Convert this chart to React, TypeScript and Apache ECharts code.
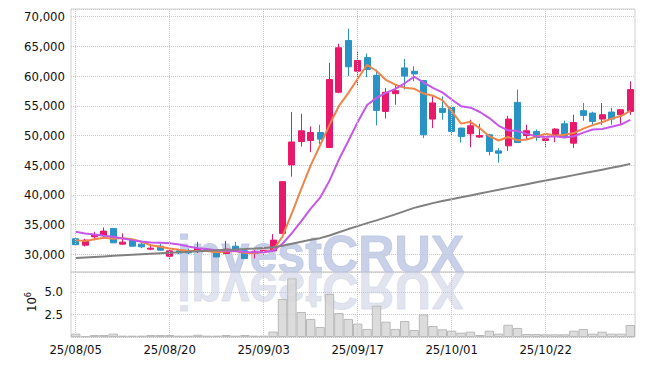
import React, { useEffect, useRef } from "react";
import * as echarts from "echarts";

const dates = [
  "25/08/05","25/08/06","25/08/07","25/08/08","25/08/11","25/08/12","25/08/13","25/08/14","25/08/18","25/08/19",
  "25/08/20","25/08/21","25/08/22","25/08/25","25/08/26","25/08/27","25/08/28","25/08/29","25/09/01","25/09/02",
  "25/09/03","25/09/04","25/09/05","25/09/08","25/09/09","25/09/10","25/09/11","25/09/12","25/09/15","25/09/16",
  "25/09/17","25/09/18","25/09/19","25/09/22","25/09/23","25/09/24","25/09/25","25/09/26","25/09/29","25/09/30",
  "25/10/01","25/10/02","25/10/10","25/10/13","25/10/14","25/10/15","25/10/16","25/10/17","25/10/20","25/10/21",
  "25/10/22","25/10/23","25/10/24","25/10/27","25/10/28","25/10/29","25/10/30","25/10/31","25/11/03","25/11/04",
];

const labelDates = ["25/08/05", "25/08/20", "25/09/03", "25/09/17", "25/10/01", "25/10/22"];

const openP = [
  32600,31520,32930,33210,34340,31690,32370,31690,30850,31350,
  29660,30560,30500,30500,30800,30560,30120,31350,30560,30120,
  30270,30560,33500,45040,48980,49150,50500,47970,57270,66000,
  60820,63120,60130,54050,57040,61380,60810,59240,52760,54560,
  54730,51240,50280,49720,50110,47400,48250,55570,49990,50670,
  49150,49830,51970,48700,54170,53770,52760,53940,53490,54050,
];
const closeP = [
  31600,32370,33330,33890,31910,32030,31350,31240,31010,30680,
  30560,30220,30220,30960,30650,29540,30850,30680,29270,30390,
  30680,32370,42220,48900,50780,50500,49380,59410,64770,61570,
  62620,61100,54220,57270,57550,60000,60370,50110,55470,53880,
  50670,49820,51630,50000,47290,47010,52760,48810,50790,49660,
  49430,51070,49660,52190,53380,52370,53490,52760,54340,57720,
];
const lowP = [
  31400,31300,32370,32650,31900,31650,31300,31000,30680,30600,
  29200,30000,30000,30200,30500,29500,30000,30500,29200,29270,
  29900,30400,33400,43060,48130,47180,48530,47900,57100,60000,
  58420,59800,51690,52850,55180,57720,59130,49600,51240,52650,
  49940,48810,48030,49550,46630,45420,47400,48750,49270,49100,
  48030,48870,49500,47910,52480,51800,51800,51800,51800,53490,
];
const highP = [
  32900,32600,33770,34500,34400,33500,32500,32000,31520,31750,
  30900,30900,30960,32080,30950,30700,32250,32080,30700,30680,
  31000,33380,42300,53950,53660,51510,51800,62230,65450,67970,
  64250,63800,61100,58000,58560,62890,61660,59300,56580,56580,
  54800,51300,52650,51970,50280,47850,53320,57720,51800,51000,
  50110,51240,52500,53490,55460,54000,55460,54650,54400,59120,
];

// volume in millions of shares
const volumeM = [
  0.37,0.1,0.22,0.22,0.37,0.15,0.15,0.15,0.22,0.22,
  0.22,0.15,0.15,0.25,0.15,0.15,0.22,0.15,0.22,0.15,
  0.15,0.6,4.2,6.5,2.77,2.0,1.1,4.76,2.65,2.0,
  1.48,0.89,3.47,1.7,0.89,1.77,0.77,2.5,1.22,0.85,
  0.7,0.48,0.59,0.22,0.7,0.37,1.36,1.0,0.33,0.33,
  0.3,0.3,0.3,0.7,0.89,0.37,0.59,0.37,0.37,1.33,
];

// moving-average values before enough in-window history exists
const ma5Lead = [32370, 32200, 32530, 32760];
const ma10Lead = [33770, 33500, 33330, 33100, 32930, 32650, 32370, 32150, 31950];

// 60-day moving average (history before window not shown)
const ma60 = [
  29350,29450,29540,29630,29720,29810,29900,29990,30080,30170,
  30260,30340,30420,30500,30590,30680,30740,30800,30870,30950,
  31040,31180,31420,31760,32100,32420,32700,33160,33700,34230,
  34720,35230,35700,36200,36700,37250,37800,38200,38600,38950,
  39270,39580,39900,40220,40540,40850,41170,41480,41790,42100,
  42400,42710,43010,43320,43630,43930,44240,44550,44870,45210,
];

function movingAvg(n: number, lead: number[]) {
  return closeP.map((_, i) => {
    if (i < n - 1) return lead[i];
    let s = 0;
    for (let k = i - n + 1; k <= i; k++) s += closeP[k];
    return Math.round(s / n);
  });
}

const UP = "#e8196b";
const DOWN = "#2a93c6";
const GRIDC = "#c6c8da";
const FONT = '"DejaVu Sans Condensed", "DejaVu Sans", sans-serif';
const WM_FONT = 'bold 52px "Liberation Sans", Arial, sans-serif';

export default function App() {
  const ref = useRef<HTMLDivElement>(null);
  useEffect(() => {
    document.body.style.margin = "0";
    const chart = echarts.init(ref.current!, null, { renderer: "svg" });
    const candles = dates.map((_, i) => [openP[i], closeP[i], lowP[i], highP[i]]);
    const vLines = {
      symbol: ["none", "none"],
      silent: true,
      animation: false,
      label: { show: false },
      lineStyle: { type: "dotted", color: GRIDC, width: 1 },
      data: labelDates.map((d) => ({ xAxis: d })),
    };
    const labelIdx = new Set(labelDates.map((d) => dates.indexOf(d)));
    chart.setOption({
      animation: false,
      textStyle: { fontFamily: FONT },
      grid: [
        { left: 71, right: 10, top: 9, height: 263, show: true, borderColor: "#d0d0d0", borderWidth: 1 },
        { left: 71, right: 10, top: 272, height: 65, show: true, borderColor: "#d0d0d0", borderWidth: 1 },
      ],
      xAxis: [
        {
          type: "category", gridIndex: 0, data: dates, boundaryGap: true,
          axisLine: { show: false }, axisTick: { show: false }, axisLabel: { show: false }, splitLine: { show: false },
        },
        {
          type: "category", gridIndex: 1, data: dates, boundaryGap: true,
          axisLine: { show: false }, axisTick: { show: false }, splitLine: { show: false },
          axisLabel: {
            interval: (idx: number) => labelIdx.has(idx),
            color: "#111", fontSize: 13, fontFamily: FONT, margin: 6,
          },
        },
      ],
      yAxis: [
        {
          type: "value", gridIndex: 0, min: 27000, max: 71300, splitNumber: 9, scale: true,
          axisLine: { show: false }, axisTick: { show: false },
          splitLine: { show: true, lineStyle: { type: "dotted", color: GRIDC } },
          axisLabel: {
            color: "#111", fontSize: 13, fontFamily: FONT, margin: 6,
            showMinLabel: false, showMaxLabel: false,
            formatter: (v: number) => v.toLocaleString("en-US"),
          },
        },
        {
          type: "value", gridIndex: 1, min: 0, max: 7.2, interval: 2.5,
          axisLine: { show: false }, axisTick: { show: false },
          splitLine: { show: true, lineStyle: { type: "dotted", color: GRIDC } },
          axisLabel: {
            color: "#111", fontSize: 13, fontFamily: FONT, margin: 8,
            showMinLabel: false, showMaxLabel: false,
            formatter: (v: number) => (v === 0 ? "" : v.toFixed(1)),
          },
        },
      ],
      graphic: [
        {
          type: "text", x: 177, y: 280, scaleX: 0.965, z: 0, silent: true,
          style: {
            text: "investCRUX", font: WM_FONT,
            fill: "rgba(186,196,226,0.78)", stroke: "rgba(186,196,226,0.78)", lineWidth: 1,
            align: "left", verticalAlign: "bottom",
          },
        },
        {
          type: "text", x: 177, y: 265, scaleX: 0.965, scaleY: -1, z: 0, silent: true,
          style: {
            text: "investCRUX", font: WM_FONT,
            fill: "rgba(212,216,232,0.7)", stroke: "rgba(212,216,232,0.7)", lineWidth: 1,
            align: "left", verticalAlign: "bottom",
          },
        },
        {
          type: "text", x: 31, y: 302, rotation: Math.PI / 2, silent: true,
          style: {
            text: "{a|10}{b|6}", align: "center", verticalAlign: "middle", fill: "#111",
            rich: {
              a: { fontSize: 13, fontFamily: FONT, fill: "#111", lineHeight: 16 },
              b: { fontSize: 9, fontFamily: FONT, fill: "#111", verticalAlign: "top", lineHeight: 16, padding: [0, 0, 6, 0] },
            },
          },
        },
      ],
      series: [
        {
          type: "candlestick", name: "price", xAxisIndex: 0, yAxisIndex: 0, data: candles,
          barWidth: "70%",
          itemStyle: { color: UP, color0: DOWN, borderColor: UP, borderColor0: DOWN, borderWidth: 1 },
          markLine: vLines, z: 3,
        },
        {
          type: "line", name: "MA5", xAxisIndex: 0, yAxisIndex: 0, data: movingAvg(5, ma5Lead),
          showSymbol: false, lineStyle: { color: "#ef8549", width: 2 }, z: 4,
        },
        {
          type: "line", name: "MA10", xAxisIndex: 0, yAxisIndex: 0, data: movingAvg(10, ma10Lead),
          showSymbol: false, lineStyle: { color: "#c757e8", width: 2 }, z: 4,
        },
        {
          type: "line", name: "MA60", xAxisIndex: 0, yAxisIndex: 0, data: ma60,
          showSymbol: false, lineStyle: { color: "#808080", width: 2 }, z: 4,
        },
        {
          type: "bar", name: "volume", xAxisIndex: 1, yAxisIndex: 1, data: volumeM,
          barWidth: "100%",
          itemStyle: { color: "rgba(214,214,214,0.85)", borderColor: "#b9b9b9", borderWidth: 1 },
          markLine: vLines, z: 3,
        },
      ],
    });
    return () => chart.dispose();
  }, []);
  return <div ref={ref} style={{ width: 645, height: 366 }} />;
}
